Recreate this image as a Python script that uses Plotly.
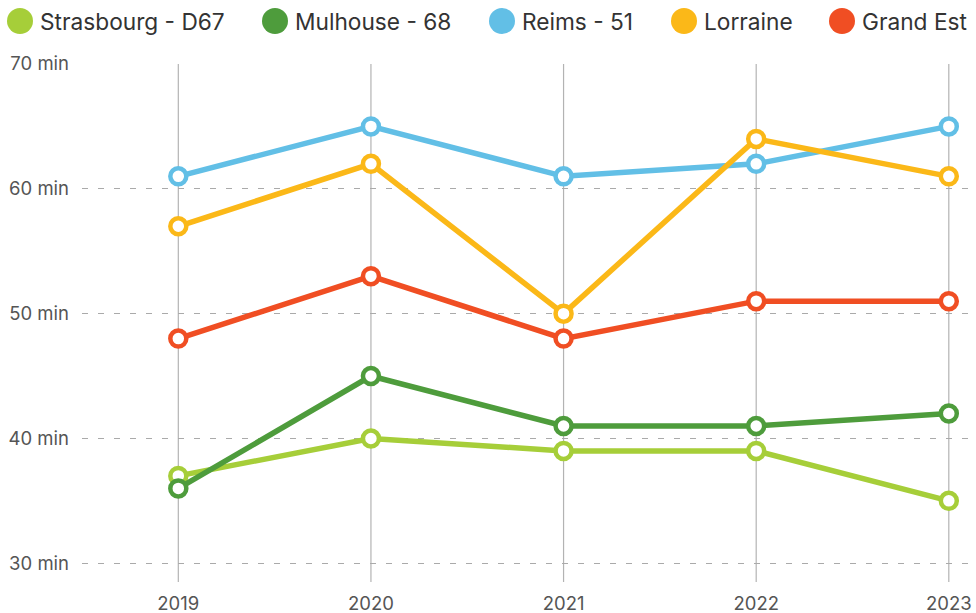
import plotly.graph_objects as go

years = [2019, 2020, 2021, 2022, 2023]
series_names = ["Strasbourg - D67", "Mulhouse - 68", "Reims - 51", "Lorraine", "Grand Est"]
strasbourg = [37, 40, 39, 39, 35]
mulhouse = [36, 45, 41, 41, 42]
reims = [61, 65, 61, 62, 65]
lorraine = [57, 62, 50, 64, 61]
grand_est = [48, 53, 48, 51, 51]
colors = ["#a6ce39", "#4e9c3c", "#62bfe6", "#fbb818", "#f04e23"]
y_ticks = [30, 40, 50, 60, 70]
y_tick_labels = [f"{v} min" for v in y_ticks]

values = [strasbourg, mulhouse, reims, lorraine, grand_est]

FONT = "Inter"
W, H = 976, 613
L, R, T, B = 82, 6, 64, 31
PW, PH = W - L - R, H - T - B

fig = go.Figure()
for name, vals, col in zip(series_names, values, colors):
    fig.add_trace(go.Scatter(
        x=years, y=vals, name=name, mode="lines+markers",
        line=dict(color=col, width=5.5),
        marker=dict(size=16, color="white", line=dict(color=col, width=4.5)),
        showlegend=False, cliponaxis=False,
    ))

# vertical grid lines at each year
for yr in years:
    fig.add_shape(type="line", xref="x", yref="paper", x0=yr, x1=yr, y0=0, y1=1,
                  line=dict(color="#b3b3b3", width=1.2), layer="below")

# manual legend (positions in figure pixels, converted to paper coords)
legend_cx = [20, 275, 502, 684, 842]
legend_cy = 21
for name, col, cx in zip(series_names, colors, legend_cx):
    fig.add_shape(type="circle", xref="paper", yref="paper",
                  x0=(cx - 13 - L) / PW, x1=(cx + 13 - L) / PW,
                  y0=(H - B - legend_cy - 13) / PH, y1=(H - B - legend_cy + 13) / PH,
                  fillcolor=col, line=dict(width=0))
    fig.add_annotation(x=(cx + 18 - L) / PW, y=(H - B - legend_cy - 1) / PH, xref="paper", yref="paper",
                       text=name, showarrow=False, xanchor="left", yanchor="middle",
                       font=dict(size=22.7, color="#333333", family=FONT))

fig.update_layout(
    width=W, height=H,
    margin=dict(l=L, r=R, t=T, b=B, autoexpand=False),
    plot_bgcolor="white", paper_bgcolor="white",
    font=dict(family=FONT, color="#555555", size=18.5),
)
fig.update_xaxes(range=[2018.5, 2023.11], tickvals=years, ticktext=[str(y) for y in years],
                 showgrid=False, zeroline=False, showline=False, ticks="", automargin=False,
                 ticklabelstandoff=8, tickfont=dict(size=18.5, color="#555555", family=FONT))
fig.update_yaxes(range=[28.5, 70], tickvals=y_ticks, ticktext=y_tick_labels,
                 showgrid=True, gridcolor="#aaaaaa", griddash="6px,10px", gridwidth=1,
                 zeroline=False, showline=False, ticks="", automargin=False,
                 ticklabelstandoff=12, tickfont=dict(size=18.5, color="#555555", family=FONT))

fig.write_html("out.html", config={"displayModeBar": False},
               post_script="document.body.style.margin='0';document.body.style.overflow='hidden';")
